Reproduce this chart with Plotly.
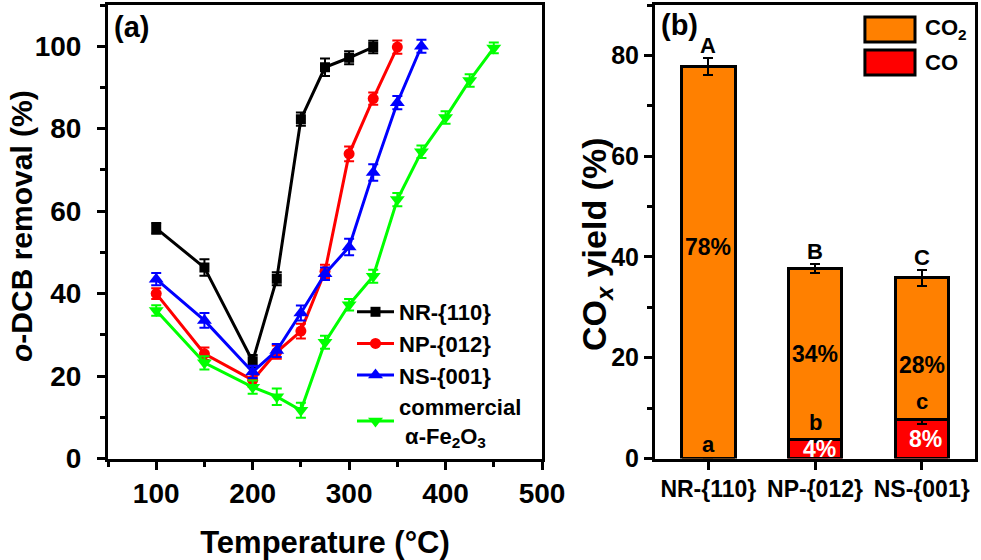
import plotly.graph_objects as go

FONT = "Liberation Sans, Arial, sans-serif"

# ---------------- panel (a) data ----------------
temps_nr = [100, 150, 200, 225, 250, 275, 300, 325]
removal_nr = [55.8, 46.3, 23.6, 43.6, 82.3, 94.9, 97.2, 99.8]
err_nr = [1.3, 2.0, 1.5, 1.6, 1.6, 2.1, 1.6, 1.5]

temps_np = [100, 150, 200, 225, 250, 275, 300, 325, 350]
removal_np = [40.0, 25.4, 19.0, 25.8, 30.9, 45.4, 73.9, 87.3, 99.8]
err_np = [1.3, 1.5, 1.6, 1.6, 1.8, 1.6, 1.8, 1.5, 1.6]

temps_ns = [100, 150, 200, 225, 250, 275, 300, 325, 350, 375]
removal_ns = [43.5, 33.5, 21.0, 26.2, 35.3, 44.8, 51.3, 69.4, 86.3, 100.0]
err_ns = [1.5, 1.8, 1.5, 1.6, 1.8, 1.5, 2.0, 2.0, 1.6, 1.6]

temps_com = [100, 150, 200, 225, 250, 275, 300, 325, 350, 375, 400, 425, 450]
removal_com = [35.9, 23.2, 17.3, 15.0, 11.7, 28.2, 37.3, 44.2, 62.8, 74.4, 82.7, 91.7, 99.6]
err_com = [1.3, 1.6, 1.6, 2.0, 1.8, 1.6, 1.4, 1.6, 1.6, 1.5, 1.5, 1.5, 1.3]

series_names = ["NR-{110}", "NP-{012}", "NS-{001}",
                "commercial<br>\u00a0α-Fe<sub>2</sub>O<sub>3</sub>"]

# ---------------- panel (b) data ----------------
catalysts = ["NR-{110}", "NP-{012}", "NS-{001}"]
co_yield = [0.0, 3.8, 7.7]
co_err = [0.0, 0.5, 0.8]
co2_yield = [77.8, 33.9, 28.2]
co2_err = [1.6, 0.9, 1.6]
co2_labels = ["78%", "34%", "28%"]
co_labels = ["", "4%", "8%"]
co2_label_y = [42.0, 20.8, 18.6]
upper_letters = ["A", "B", "C"]
lower_letters = ["a", "b", "c"]

fig = go.Figure()

styles = [
    ("#000000", "square", 10),
    ("#FF0000", "circle", 11),
    ("#0000FF", "triangle-up", 13),
    ("#00FF00", "triangle-down", 13),
]
data_a = [(temps_nr, removal_nr, err_nr), (temps_np, removal_np, err_np),
          (temps_ns, removal_ns, err_ns), (temps_com, removal_com, err_com)]

for (xs, ys, es), name, (col, sym, sz) in zip(data_a, series_names, styles):
    fig.add_trace(go.Scatter(
        x=xs, y=ys, name=name, mode="lines+markers",
        line=dict(color=col, width=3),
        marker=dict(color=col, symbol=sym, size=sz),
        error_y=dict(type="data", array=es, color=col, thickness=2, width=5),
        xaxis="x", yaxis="y",
    ))

# stacked bars
fig.add_trace(go.Bar(
    x=catalysts, y=co_yield, name="CO", showlegend=False,
    marker=dict(color="#FF0000", line=dict(color="#000000", width=3)),
    error_y=dict(type="data", array=co_err, color="#000000", thickness=2, width=5),
    width=0.5, xaxis="x2", yaxis="y2",
))
fig.add_trace(go.Bar(
    x=catalysts, y=co2_yield, name="CO2", showlegend=False,
    marker=dict(color="#FF8000", line=dict(color="#000000", width=3)),
    error_y=dict(type="data", array=co2_err, color="#000000", thickness=2, width=5),
    width=0.5, xaxis="x2", yaxis="y2",
))

ax_common = dict(
    showline=True, linewidth=3, linecolor="black", mirror=True,
    ticks="outside", ticklen=8, tickwidth=3, tickcolor="black",
    showgrid=False, zeroline=False,
)

H = 560.0
W = 981.0
ybot = (H - 458.5) / H
ytop = (H - 5) / H

fig.update_layout(
    width=981, height=560,
    margin=dict(l=0, r=0, t=0, b=0, autoexpand=False),
    paper_bgcolor="white", plot_bgcolor="white",
    font=dict(family=FONT, color="black", weight="bold"),
    barmode="stack",
    xaxis=dict(
        domain=[108 / W, 542 / W], range=[50, 500], tick0=0, dtick=100,
        minor=dict(dtick=50, ticks="outside", ticklen=5, tickwidth=3, tickcolor="black"),
        tickfont=dict(size=28, family=FONT, weight="bold"), ticklabelstandoff=0,
        title=dict(text="Temperature (°C)", font=dict(size=31, family=FONT, weight="bold"), standoff=25),
        anchor="y", **ax_common,
    ),
    yaxis=dict(
        domain=[ybot, ytop], range=[0, 110], tick0=0, dtick=20,
        minor=dict(dtick=10, ticks="outside", ticklen=5, tickwidth=3, tickcolor="black"),
        tickfont=dict(size=28, family=FONT, weight="bold"), ticklabelstandoff=10,
        anchor="x", **ax_common,
    ),
    xaxis2=dict(
        domain=[655 / W, 975 / W], range=[-0.5, 2.5], type="category",
        tickfont=dict(size=23, family=FONT, weight="bold"), ticklabelstandoff=0,
        anchor="y2", **ax_common,
    ),
    yaxis2=dict(
        domain=[ybot, ytop], range=[0, 90], tick0=0, dtick=20,
        minor=dict(dtick=10, ticks="outside", ticklen=5, tickwidth=3, tickcolor="black"),
        tickfont=dict(size=25, family=FONT, weight="bold"),
        anchor="x2", **ax_common,
    ),
    legend=dict(
        x=352 / W, y=(H - 291) / H, xanchor="left", yanchor="top",
        bgcolor="rgba(0,0,0,0)", borderwidth=0, traceorder="normal",
        font=dict(size=22, family=FONT, weight="bold", color="black"),
        itemwidth=37,
    ),
)

annotations = [
    dict(text="(a)", xref="paper", yref="paper", x=112 / W, y=(H - 27) / H,
         xanchor="left", yanchor="middle", showarrow=False, font=dict(size=29)),
    dict(text="(b)", xref="paper", yref="paper", x=659 / W, y=(H - 25) / H,
         xanchor="left", yanchor="middle", showarrow=False, font=dict(size=29)),
    dict(text="<i>o</i>-DCB removal (%)", xref="paper", yref="paper",
         x=21 / W, y=(H - 226) / H, xanchor="center", yanchor="middle",
         textangle=-90, showarrow=False, font=dict(size=30)),
    dict(text="CO<sub><i>x</i></sub> yield (%)", xref="paper", yref="paper",
         x=596 / W, y=(H - 244) / H, xanchor="center", yanchor="middle",
         textangle=-90, showarrow=False, font=dict(size=34)),
]

for i, cat in enumerate(catalysts):
    total = co_yield[i] + co2_yield[i]
    annotations.append(dict(text=upper_letters[i], x=cat, y=total + co2_err[i], xref="x2", yref="y2",
                            yanchor="bottom", yshift=-2, showarrow=False, font=dict(size=22)))
    annotations.append(dict(text=lower_letters[i], x=cat, y=co_yield[i] + co_err[i], xref="x2", yref="y2",
                            yanchor="bottom", yshift=0, showarrow=False, font=dict(size=22)))
    annotations.append(dict(text=co2_labels[i], x=cat, y=co2_label_y[i], xref="x2", yref="y2",
                            yanchor="middle", showarrow=False, font=dict(size=23)))
    if co_labels[i]:
        annotations.append(dict(text=co_labels[i], x=cat, y=co_yield[i] / 2, xref="x2", yref="y2",
                                yanchor="middle", xshift=4, showarrow=False,
                                font=dict(size=23, color="white")))

# legend for panel (b)
legend_items = [("CO<sub>2</sub>", "#FF8000", 0.9736, 0.9185),
                ("CO", "#FF0000", 0.9009, 0.8458)]
shapes = []
for label, col, y1, y0 in legend_items:
    shapes.append(dict(type="rect", xref="x2 domain", yref="y2 domain",
                       x0=0.656, x1=0.8125, y0=y0, y1=y1,
                       fillcolor=col, line=dict(color="black", width=3)))
    annotations.append(dict(text=label, xref="x2 domain", yref="y2 domain",
                            x=0.8375, y=(y0 + y1) / 2, xanchor="left", yanchor="middle",
                            showarrow=False, font=dict(size=22)))

fig.update_layout(annotations=annotations, shapes=shapes)

fig.write_html("out.html", config={"displayModeBar": False},
               post_script="document.body.style.margin='0px';document.body.style.overflow='hidden';")
